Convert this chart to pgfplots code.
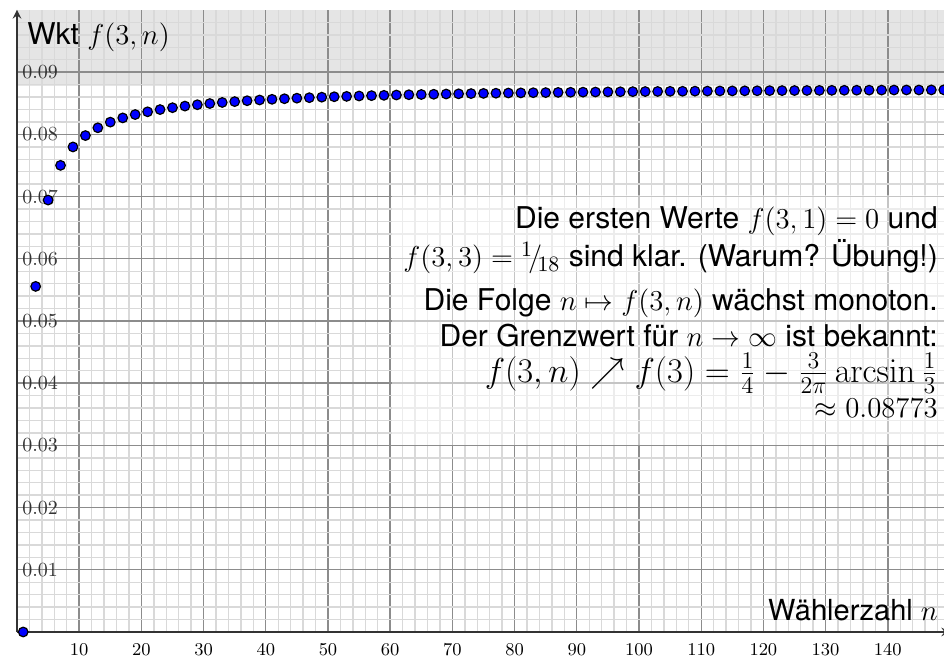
\documentclass[border=0pt]{standalone}
\usepackage[no-math]{fontspec}
\usepackage{amsmath,amssymb}
\usepackage{pgfplots}
\pgfplotsset{compat=1.18}
\newfontfamily\heros{TeX Gyre Heros}

\begin{document}
\begin{tikzpicture}
\begin{axis}[
    set layers,
    scale only axis,
    width=466.5pt, height=311pt,
    xmin=0, xmax=150, ymin=0, ymax=0.1,
    axis lines=left,
    axis line style={black!80, line width=0.9pt},
    xtick={10,20,...,140},
    ytick={0.01,0.02,0.03,0.04,0.05,0.06,0.07,0.08,0.09},
    minor xtick={0,2,...,150},
    minor ytick={0.002,0.004,0.006,0.008,0.012,0.014,0.016,0.018,
                 0.022,0.024,0.026,0.028,0.032,0.034,0.036,0.038,
                 0.042,0.044,0.046,0.048,0.052,0.054,0.056,0.058,
                 0.062,0.064,0.066,0.068,0.072,0.074,0.076,0.078,
                 0.082,0.084,0.086,0.088,0.092,0.094,0.096,0.098},
    grid=both,
    major grid style={black!45, line width=0.7pt},
    minor grid style={black!15, line width=0.7pt},
    major tick length=0pt, minor tick length=0pt,
    xticklabel style={font=\fontsize{9}{11}\selectfont, yshift=-2.2pt},
    yticklabel style={font=\fontsize{10}{12}\selectfont, anchor=west, xshift=2.5pt, inner sep=0pt, text=black!80},
    y tick label style={/pgf/number format/fixed, /pgf/number format/precision=2, /pgf/number format/fixed zerofill},
    scaled y ticks=false,
    clip=false,
]
% grauer Bereich oberhalb des Grenzwerts
\addplot[draw=none, fill=black!10, on layer=axis background] coordinates {
    (0,0.08773) (150,0.08773) (150,0.1) (0,0.1)
};

% f(3,n) fuer ungerade n
\addplot[only marks, mark=*, mark size=2.4pt, mark options={fill=blue, draw=black, line width=0.6pt}] coordinates {
    (1,0) (3,0.05556) (5,0.06944) (7,0.07502) (9,0.07798)
    (11,0.07981) (13,0.08106) (15,0.08197) (17,0.08265) (19,0.08319)
    (21,0.08363) (23,0.08399) (25,0.08429) (27,0.08455) (29,0.08477)
    (31,0.08496) (33,0.08513) (35,0.08527) (37,0.08541) (39,0.08553)
    (41,0.08564) (43,0.08573) (45,0.08582) (47,0.08590) (49,0.08598)
    (51,0.08605) (53,0.08611) (55,0.08617) (57,0.08623) (59,0.08628)
    (61,0.08633) (63,0.08637) (65,0.08641) (67,0.08645) (69,0.08649)
    (71,0.08652) (73,0.08656) (75,0.08659) (77,0.08662) (79,0.08665)
    (81,0.08667) (83,0.08670) (85,0.08672) (87,0.08675) (89,0.08677)
    (91,0.08679) (93,0.08681) (95,0.08683) (97,0.08685) (99,0.08687)
    (101,0.08689) (103,0.08690) (105,0.08692) (107,0.08693) (109,0.08695)
    (111,0.08696) (113,0.08698) (115,0.08699) (117,0.08700) (119,0.08701)
    (121,0.08703) (123,0.08704) (125,0.08705) (127,0.08706) (129,0.08707)
    (131,0.08708) (133,0.08709) (135,0.08710) (137,0.08711) (139,0.08712)
    (141,0.08713) (143,0.08714) (145,0.08714) (147,0.08715) (149,0.08716)
};

% halbtransparenter Kasten hinter dem Text
\fill[white, opacity=0.5] (axis cs:60.3,0.0301) rectangle (axis cs:150,0.0703);

\node[anchor=base west, font=\heros\fontsize{15}{18}\selectfont, inner sep=0pt] at (axis cs:1.6,0.09437) {Wkt $f(3,n)$};
\node[anchor=base east, font=\heros\fontsize{14.5}{18}\selectfont, inner sep=0pt] at (axis cs:148.1,0.00182) {Wählerzahl $n$};

\begin{scope}[every node/.style={anchor=base east, font=\heros\fontsize{15}{18}\selectfont, inner sep=0pt}]
\node at (axis cs:148.1,0.06479) {Die ersten Werte $f(3,1)=0$ und};
\node at (axis cs:148.1,0.05868) {$f(3,3)={}^{1}\!/\!{}_{18}$ sind klar. (Warum? Übung!)};
\node at (axis cs:148.1,0.05161) {Die Folge $n\mapsto f(3,n)$ wächst monoton.};
\node at (axis cs:148.1,0.04582) {Der Grenzwert für $n\to\infty$ ist bekannt:};
\node[font=\fontsize{17}{20}\selectfont] at (axis cs:148.1,0.04019) {$f(3,n)\nearrow f(3)=\frac{1}{4}-\frac{3}{2\pi}\arcsin\frac{1}{3}$};
\node at (axis cs:148.1,0.03441) {$\approx 0.08773$};
\end{scope}
\end{axis}
\pgfresetboundingbox
\useasboundingbox (-8.5pt,-12pt) rectangle (463.5pt,316pt);
\end{tikzpicture}
\end{document}
